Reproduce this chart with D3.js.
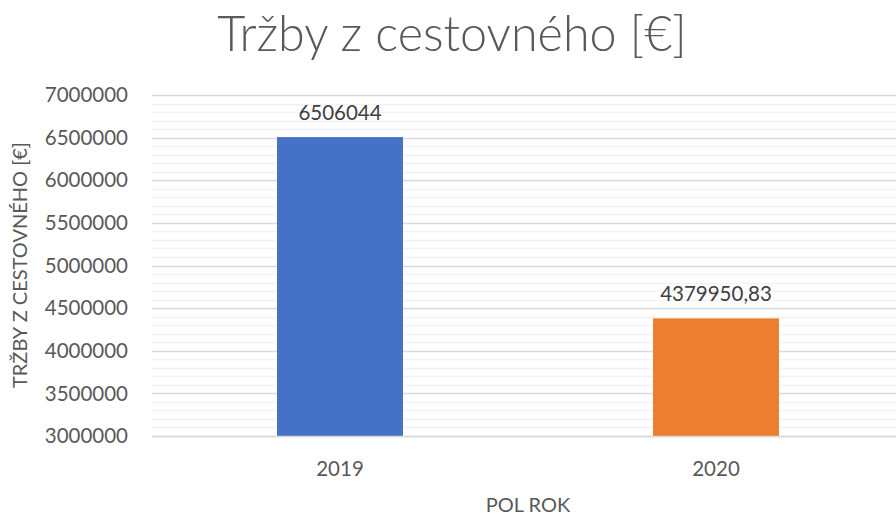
<!DOCTYPE html>
<meta charset="utf-8">
<style>
body { margin: 0; background: #fff; }
text { font-family: 'Lato', 'Open Sans', sans-serif; }
.title { font-size: 48.5px; font-weight: 300; fill: #595959; }
.tick-label { font-size: 20.5px; fill: #595959; }
.axis-title { font-size: 20px; fill: #595959; }
.value-label { font-size: 20.5px; fill: #404040; }
</style>
<div id="chart"></div>
<script src="https://d3js.org/d3.v7.min.js"></script>
<script>
// data
var years = ['2019', '2020']
var revenue = [6506044, 4379950.83]
var valueLabels = ['6506044', '4379950,83']
var barColors = ['#4472c4', '#ed7d31']
var yTicks = [3000000, 3500000, 4000000, 4500000, 5000000, 5500000, 6000000, 6500000, 7000000]

var W = 896, H = 515
var margin = { top: 95, left: 152, right: -8, bottom: 79 }
var width = W - margin.left - margin.right
var height = H - margin.top - margin.bottom

var svg = d3.select('#chart')
  .append('svg')
  .attr('width', W)
  .attr('height', H)

var g = svg.append('g')
  .attr('transform', 'translate(' + margin.left + ',' + margin.top + ')')

var x = d3.scaleBand()
  .domain(years)
  .range([0, width])
  .paddingInner(0.665)
  .paddingOuter(0.3325)

var y = d3.scaleLinear()
  .domain([3000000, 7000000])
  .range([height, 0])

// minor gridlines every 100000
var minor = d3.range(3000000, 7000001, 100000).filter(v => v % 500000 !== 0)
g.selectAll('.minor')
  .data(minor)
  .enter().append('line')
  .attr('x1', 0).attr('x2', width)
  .attr('y1', d => Math.round(y(d)) + 0.5)
  .attr('y2', d => Math.round(y(d)) + 0.5)
  .attr('stroke', '#f2f2f2')
  .attr('stroke-width', 1.5)

g.selectAll('.major')
  .data(yTicks)
  .enter().append('line')
  .attr('x1', 0).attr('x2', width)
  .attr('y1', d => Math.round(y(d)) + 0.5)
  .attr('y2', d => Math.round(y(d)) + 0.5)
  .attr('stroke', '#d9d9d9')
  .attr('stroke-width', 1.5)

// y tick labels
g.selectAll('.ylab')
  .data(yTicks)
  .enter().append('text')
  .attr('class', 'tick-label')
  .attr('x', -24)
  .attr('y', d => y(d))
  .attr('dy', '0.35em')
  .attr('text-anchor', 'end')
  .text(d => d)

// bars
g.selectAll('.bar')
  .data(years)
  .enter().append('rect')
  .attr('x', d => x(d))
  .attr('width', x.bandwidth())
  .attr('y', (d, i) => y(revenue[i]))
  .attr('height', (d, i) => height - y(revenue[i]))
  .attr('fill', (d, i) => barColors[i])

// baseline
g.append('line')
  .attr('x1', 0).attr('x2', width)
  .attr('y1', height + 0.5).attr('y2', height + 0.5)
  .attr('stroke', '#d9d9d9')
  .attr('stroke-width', 1.5)

// value labels
g.selectAll('.vlab')
  .data(years)
  .enter().append('text')
  .attr('class', 'value-label')
  .attr('x', d => x(d) + x.bandwidth() / 2)
  .attr('y', (d, i) => y(revenue[i]) - 17)
  .attr('text-anchor', 'middle')
  .text((d, i) => valueLabels[i])

// x tick labels
g.selectAll('.xlab')
  .data(years)
  .enter().append('text')
  .attr('class', 'tick-label')
  .attr('x', d => x(d) + x.bandwidth() / 2)
  .attr('y', height + 40)
  .attr('text-anchor', 'middle')
  .text(d => d)

// axis titles
svg.append('text')
  .attr('class', 'axis-title')
  .attr('x', margin.left + width / 2)
  .attr('y', 512)
  .attr('text-anchor', 'middle')
  .text('POL ROK')

svg.append('text')
  .attr('class', 'axis-title')
  .attr('transform', 'translate(27,265) rotate(-90)')
  .attr('text-anchor', 'middle')
  .text('TRŽBY Z CESTOVNÉHO [€]')

// title
svg.append('text')
  .attr('class', 'title')
  .attr('x', 452)
  .attr('y', 51)
  .attr('text-anchor', 'middle')
  .text('Tržby z cestovného [€]')
</script>
